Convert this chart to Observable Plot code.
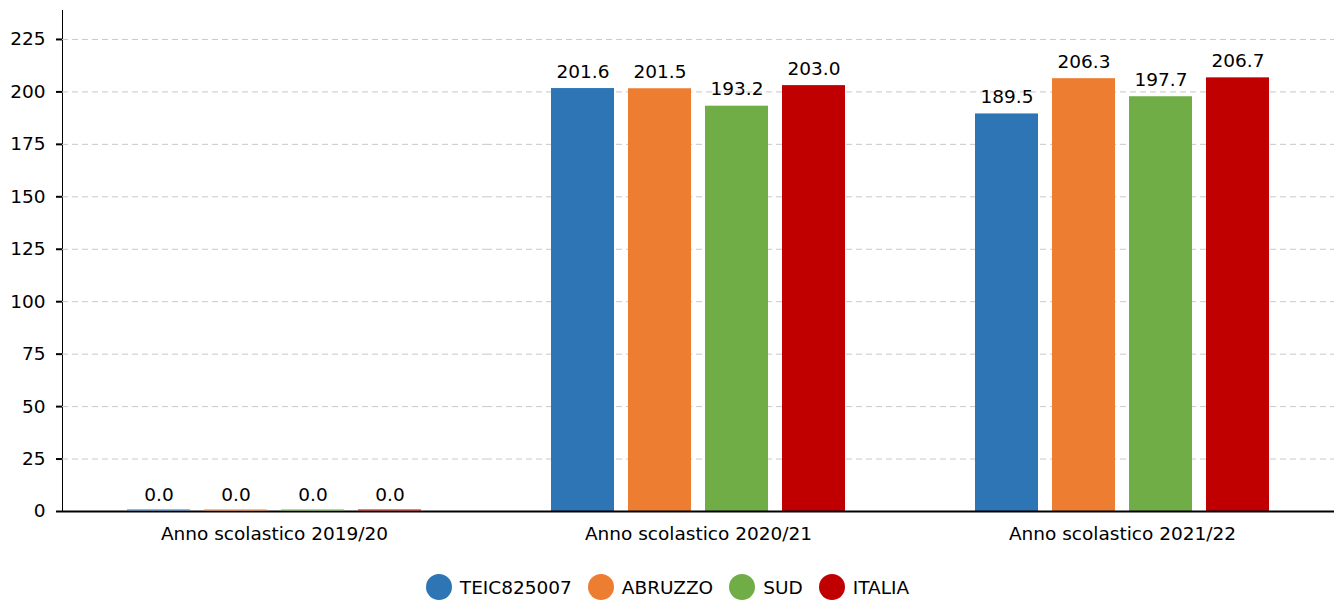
<!DOCTYPE html>
<html><head><meta charset="utf-8">
<script src="https://cdn.jsdelivr.net/npm/d3@7"></script>
<script src="https://cdn.jsdelivr.net/npm/@observablehq/plot@0.6"></script>
<style>
body{margin:0;background:#fff;font-family:"DejaVu Sans",sans-serif;}
#chart svg [aria-label^="y-axis"], #chart svg [aria-label^="y-axis"] * {stroke-width:2px;}
.legend{display:flex;justify-content:center;align-items:center;height:64px;font-size:18.5px;color:#000;}
.item{display:flex;align-items:center;margin:0 8px;}
.dot{width:26px;height:26px;border-radius:50%;margin-right:8px;}
</style></head><body>
<div id="chart"></div>
<div class="legend" id="legend"></div>
<script>
const years = ["Anno scolastico 2019/20", "Anno scolastico 2020/21", "Anno scolastico 2021/22"];
const series = ["TEIC825007", "ABRUZZO", "SUD", "ITALIA"];
const colors = ["#2e75b6", "#ed7d31", "#70ad47", "#c00000"];
const values2019 = [0.0, 0.0, 0.0, 0.0];
const values2020 = [201.6, 201.5, 193.2, 203.0];
const values2021 = [189.5, 206.3, 197.7, 206.7];
const yTicks = [0, 25, 50, 75, 100, 125, 150, 175, 200, 225];

const valuesByYear = [values2019, values2020, values2021];
const data = years.flatMap((year, i) => series.map((s, j) => ({year, series: s, value: valuesByYear[i][j]})));

const chart = Plot.plot({
  width: 1335, height: 555,
  marginLeft: 61, marginRight: 0, marginTop: 10, marginBottom: 44,
  style: {fontFamily: "DejaVu Sans", fontSize: "18.5px", color: "#000", background: "#fff"},
  fx: {domain: years, padding: 0, label: null, tickSize: 0, tickPadding: 15, axis: "bottom"},
  x: {domain: series, paddingInner: 0.176, paddingOuter: 0.82, axis: null},
  y: {domain: [0, 238.8], ticks: yTicks, tickSize: 6, tickPadding: 11, label: null, line: true},
  color: {domain: series, range: colors},
  marks: [
    Plot.ruleY(yTicks, {stroke: "#c8c8c8", strokeDasharray: "6,4", strokeWidth: 1}),
    Plot.barY(data, {fx: "year", x: "series", y: "value", fill: "series"}),
    Plot.ruleY([0], {stroke: "#000", strokeWidth: 2}),
    Plot.tickY(data, {filter: d => d.value === 0, fx: "year", x: "series", y: "value", stroke: "series", strokeWidth: 1, dy: -1.5}),
    Plot.text(data, {fx: "year", x: "series", y: "value", text: d => d.value.toFixed(1), dy: -11, lineAnchor: "bottom", fill: "#000"})
  ]
});
document.getElementById("chart").appendChild(chart);

const legend = document.getElementById("legend");
series.forEach((s, i) => {
  const item = document.createElement("div");
  item.className = "item";
  const dot = document.createElement("span");
  dot.className = "dot";
  dot.style.background = colors[i];
  const label = document.createElement("span");
  label.textContent = s;
  item.appendChild(dot); item.appendChild(label);
  legend.appendChild(item);
});
</script>
</body></html>
